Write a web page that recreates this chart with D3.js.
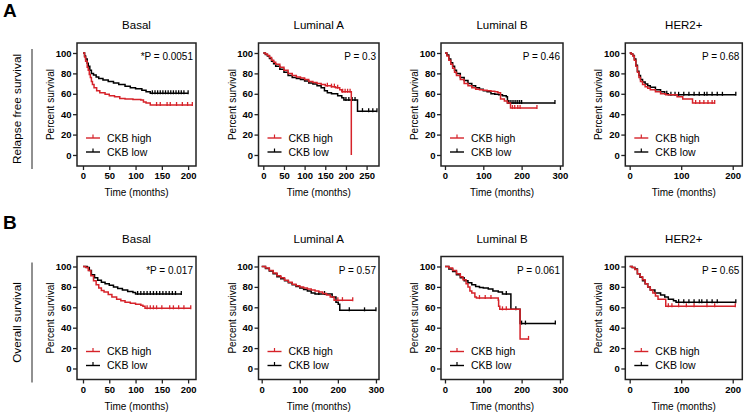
<!DOCTYPE html>
<html><head><meta charset="utf-8">
<script src="https://cdn.jsdelivr.net/npm/d3@7/dist/d3.min.js"></script>
<style>
html,body{margin:0;padding:0;background:#fff;}
svg{display:block;font-family:"Liberation Sans",Arial,sans-serif;}
</style></head>
<body><svg id="c" width="750" height="413"></svg>
<script>
// ---------- DATA ----------
const rowLabels = ["Relapse free survival", "Overall survival"];
const panelLetters = ["A", "B"];
const subtypes = ["Basal", "Luminal A", "Luminal B", "HER2+"];
const seriesNames = ["CKB high", "CKB low"];
const pValues = [["*P = 0.0051", "P = 0.3", "P = 0.46", "P = 0.68"],
                 ["*P = 0.017", "P = 0.57", "P = 0.061", "P = 0.65"]];
const yTicks = [0, 20, 40, 60, 80, 100];
const xTicks = [[[0,50,100,150,200],[0,50,100,150,200,250],[0,100,200,300],[0,100,200]],
                [[0,50,100,150,200],[0,100,200,300],[0,100,200,300],[0,100,200]]];

// Relapse free survival: [time (months), percent survival]
const rfsBasalHigh = [[0,100],[3,96],[5,92],[8,86],[10,83],[12,79],[14,76],[16,72],[18,69],[21,66],[26,63],[32,61],[42,59.5],[50,58],[60,57],[70,55.5],[80,55],[95,54.5],[110,54],[115,52],[120,51],[128,49],[208,49]];
const rfsBasalHighCens = [140,147,160,166,178,189,199,208];
const rfsBasalLow = [[0,100],[3,97],[5,94],[8,90],[10,87],[13,83],[16,80],[20,78.5],[25,76.5],[30,75],[38,73.5],[48,72],[58,70.5],[68,69],[80,67.5],[90,66],[100,65],[112,63.5],[120,62],[128,60.5],[200,60.5]];
const rfsBasalLowCens = [132,137,142,147,152,157,162,167,172,177,182,187,192,200];
const rfsLumAHigh = [[0,100],[5,99],[10,97.5],[15,95.5],[20,93],[25,91],[30,89],[40,86],[50,83],[60,80],[70,78],[80,76.5],[90,75.5],[100,74],[110,72],[120,71],[130,70],[140,69],[150,68],[165,67],[175,66],[185,64],[190,62],[213,62],[213,0]];
const rfsLumAHighCens = [155,165,172,180,192,198,204,210];
const rfsLumALow = [[0,100],[5,98.5],[10,97],[15,94.5],[20,92],[25,89.5],[30,87],[40,84],[50,81],[60,78],[70,76],[80,75],[90,74],[100,72.5],[110,70.5],[120,69.5],[130,68],[140,66],[148,63],[155,61],[165,60],[180,58],[190,56],[195,54],[228,54],[228,43],[275,43]];
const rfsLumALowCens = [200,207,215,222,240,255,265,275];
const rfsLumBHigh = [[0,100],[5,97],[10,93],[15,89],[20,85],[25,81],[30,78],[40,74],[50,70],[60,68],[70,66],[80,64.5],[90,64],[100,63.5],[110,63],[120,62.5],[130,62],[138,61],[145,55],[155,53],[163,51],[171,46],[240,46]];
const rfsLumBHighCens = [176,182,190,196,240];
const rfsLumBLow = [[0,100],[5,98],[10,94],[15,90.5],[20,87],[25,83],[30,80],[40,76],[50,73],[60,70],[70,68],[80,66],[90,64.5],[100,63],[110,62],[120,60],[130,59.5],[140,59],[150,58],[160,57],[163,51],[287,51]];
const rfsLumBLowCens = [166,170,175,180,185,190,195,200,287];
const rfsHer2High = [[0,100],[3,99],[6,97],[9,93],[12,87],[15,81],[18,76],[21,72],[25,69],[30,67],[35,65.5],[40,64],[50,62],[60,60],[70,59],[92,57],[103,55],[122,51],[165,51]];
const rfsHer2HighCens = [128,136,144,152,160,165];
const rfsHer2Low = [[0,100],[3,99],[6,97.5],[9,94],[12,88],[15,82],[18,78],[21,74],[25,71.5],[30,69.5],[35,68],[40,66.5],[50,64],[60,62],[68,60],[75,59],[206,59]];
const rfsHer2LowCens = [72,80,88,95,105,115,125,135,145,150,160,170,180,206];

// Overall survival
const osBasalHigh = [[0,100],[5,99],[10,96],[15,91],[20,86],[25,82],[30,79],[35,76.5],[40,75],[48,72.5],[55,70],[64,68],[72,66.5],[80,65],[90,64],[100,63],[110,62],[114,61],[118,59],[205,59]];
const osBasalHighCens = [122,128,134,140,150,165,172,182,192,205];
const osBasalLow = [[0,100],[8,99],[12,96],[16,92],[22,89],[28,86.5],[35,84.5],[42,83],[50,81.5],[58,80],[66,78.5],[75,77],[85,75.5],[95,74.5],[100,73],[187,73]];
const osBasalLowCens = [104,110,116,122,128,134,140,146,152,158,164,170,176,187];
const osLumAHigh = [[0,100],[10,98.5],[20,96],[30,93.5],[40,91],[50,89],[60,86.5],[70,84.5],[80,82.5],[90,81],[100,80],[110,79],[120,78],[130,77],[140,76],[150,75],[160,73.5],[170,72],[180,70],[190,67],[239,67]];
const osLumAHighCens = [200,212,239];
const osLumALow = [[0,100],[10,98],[20,95.5],[30,93],[40,90],[50,88],[60,86],[70,84],[80,82],[90,80.5],[100,79],[110,77.5],[120,76],[130,74],[140,73],[175,73],[185,70],[195,65],[201,63],[205,57],[300,57]];
const osLumALowCens = [150,165,230,270,300];
const osLumBHigh = [[0,100],[10,98.5],[20,96],[30,93],[40,90],[47,87],[55,83],[60,80],[65,76],[70,74],[78,70],[82,69],[135,69],[139,67],[140,61],[143,58],[196,58],[196,29],[218,29]];
const osLumBHighCens = [90,105,120,150,160,218];
const osLumBLow = [[0,100],[10,97.5],[20,95],[30,92],[40,89],[50,86],[60,84],[70,82],[80,80.5],[90,79.5],[100,79],[113,78],[125,76],[139,75],[150,73],[172,72.5],[172,58],[196,58],[196,44],[288,44]];
const osLumBLowCens = [160,185,200,210,288];
const osHer2High = [[0,100],[5,99],[10,97],[15,93],[20,90],[25,87],[30,83],[35,80],[40,77],[45,74],[50,71],[55,68],[70,61],[205,61]];
const osHer2HighCens = [75,82,95,110,125,150,165,205];
const osHer2Low = [[0,100],[5,99],[10,97.5],[15,93],[20,89.5],[25,86],[30,83],[35,80],[40,77],[49,74],[60,72],[68,70],[75,68],[85,66.5],[90,65],[206,65]];
const osHer2LowCens = [95,105,115,125,135,140,150,160,170,206];

const curves = [
  [[rfsBasalHigh,rfsBasalHighCens,rfsBasalLow,rfsBasalLowCens],
   [rfsLumAHigh,rfsLumAHighCens,rfsLumALow,rfsLumALowCens],
   [rfsLumBHigh,rfsLumBHighCens,rfsLumBLow,rfsLumBLowCens],
   [rfsHer2High,rfsHer2HighCens,rfsHer2Low,rfsHer2LowCens]],
  [[osBasalHigh,osBasalHighCens,osBasalLow,osBasalLowCens],
   [osLumAHigh,osLumAHighCens,osLumALow,osLumALowCens],
   [osLumBHigh,osLumBHighCens,osLumBLow,osLumBLowCens],
   [osHer2High,osHer2HighCens,osHer2Low,osHer2LowCens]]
];

// ---------- LAYOUT ----------
const RED = "#d6232a", BLACK = "#000";
const colL = [77, 258.5, 441, 625.3], colR = [196, 379, 563, 742.3];
const rowT = [43, 256.5], rowB = [166, 379.5];
const xDom = [[[-11.4,215],[-11.6,280],[-10.4,308],[-8.5,218.6]],
              [[-11.4,215],[-8.4,308],[-10.4,308],[-8.5,218.6]]];
const yDom = [-10.8, 109.8];

const svg = d3.select("#c");

function survAt(pts, t){
  let s = pts[0][1];
  for (const p of pts){ if (p[0] <= t) s = p[1]; else break; }
  return s;
}

for (let r = 0; r < 2; r++){
  svg.append("text").attr("x", 3).attr("y", r === 0 ? 17 : 229)
    .attr("font-size", 19).attr("font-weight", "bold").text(panelLetters[r]);
  const top = rowT[r], bot = rowB[r];
  const lineTop = top + 6, lineBot = bot + 3;
  svg.append("line").attr("x1", 32).attr("x2", 32).attr("y1", lineTop).attr("y2", lineBot)
    .attr("stroke", "#222").attr("stroke-width", 1);
  svg.append("text").attr("transform", `translate(21,${(lineTop+lineBot)/2}) rotate(-90)`)
    .attr("text-anchor", "middle").attr("font-size", 11.8).text(rowLabels[r]);

  for (let c = 0; c < 4; c++){
    const L = colL[c], R = colR[c];
    const x = d3.scaleLinear().domain(xDom[r][c]).range([L, R]);
    const y = d3.scaleLinear().domain(yDom).range([bot, top]);
    const g = svg.append("g");

    g.append("text").attr("x", (L+R)/2).attr("y", top - 14).attr("text-anchor", "middle")
      .attr("font-size", 11.5).text(subtypes[c]);

    const ya = g.append("g").attr("transform", `translate(${L},0)`)
      .call(d3.axisLeft(y).tickValues(yTicks).tickSize(4).tickPadding(1.5));
    const xa = g.append("g").attr("transform", `translate(0,${bot})`)
      .call(d3.axisBottom(x).tickValues(xTicks[r][c]).tickSize(4).tickPadding(2.5));
    [ya, xa].forEach(a => {
      a.select(".domain").remove();
      a.selectAll("line").attr("stroke", "#222").attr("stroke-width", 1.3);
      a.selectAll("text").attr("font-size", 9.5).attr("font-weight", "bold")
        .attr("font-family", "Liberation Sans, Arial, sans-serif").attr("fill", "#000");
    });

    g.append("text").attr("transform", `translate(${L-23},${(top+bot)/2}) rotate(-90)`)
      .attr("text-anchor", "middle").attr("font-size", 10).text("Percent survival");
    g.append("text").attr("x", (L+R)/2).attr("y", bot + 30).attr("text-anchor", "middle")
      .attr("font-size", 10).text("Time (months)");

    const line = d3.line().x(d => x(d[0])).y(d => y(d[1])).curve(d3.curveStepAfter);
    const [hi, hiC, lo, loC] = curves[r][c];
    [[lo, loC, BLACK], [hi, hiC, RED]].forEach(([pts, cens, col]) => {
      g.append("path").attr("d", line(pts)).attr("fill", "none")
        .attr("stroke", col).attr("stroke-width", 1.5);
      g.selectAll(null).data(cens).enter().append("line")
        .attr("x1", d => x(d)).attr("x2", d => x(d))
        .attr("y1", d => y(survAt(pts, d)) - 3).attr("y2", d => y(survAt(pts, d)) + 1)
        .attr("stroke", col).attr("stroke-width", 1.3);
    });

    g.append("rect").attr("x", L).attr("y", top).attr("width", R - L).attr("height", bot - top)
      .attr("fill", "none").attr("stroke", "#222").attr("stroke-width", 1.5);

    g.append("text").attr("x", R - 3).attr("y", top + 17).attr("text-anchor", "end")
      .attr("font-size", 10).text(pValues[r][c]);

    [[RED, seriesNames[0], 95], [BLACK, seriesNames[1], 109]].forEach(([col, name, dy]) => {
      const yy = top + dy;
      g.append("line").attr("x1", L + 9).attr("x2", L + 23).attr("y1", yy).attr("y2", yy)
        .attr("stroke", col).attr("stroke-width", 1.4);
      g.append("line").attr("x1", L + 16).attr("x2", L + 16).attr("y1", yy - 3.5).attr("y2", yy)
        .attr("stroke", col).attr("stroke-width", 1.2);
      g.append("text").attr("x", L + 30).attr("y", yy + 3.8).attr("font-size", 10.5).text(name);
    });
  }
}
</script></body></html>
